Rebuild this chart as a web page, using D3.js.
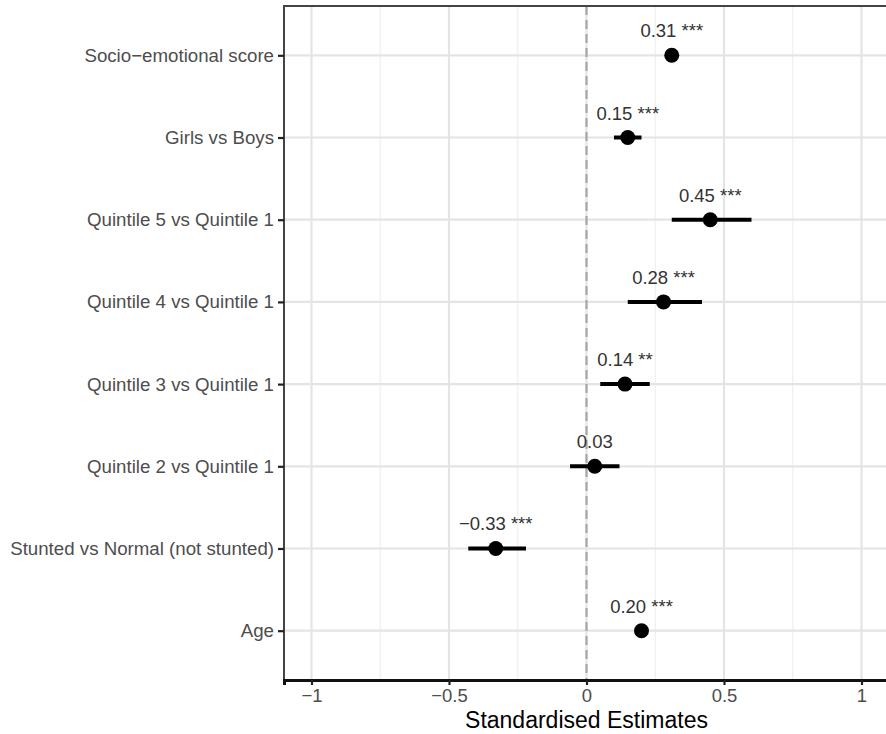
<!DOCTYPE html>
<html>
<head>
<meta charset="utf-8">
<script src="https://cdn.jsdelivr.net/npm/d3@7"></script>
<style>
  body { margin: 0; background: #fff; }
  svg { display: block; font-family: "Liberation Sans", Arial, sans-serif; }
</style>
</head>
<body>
<div id="chart"></div>
<script>
// Forest plot: standardised estimates with confidence intervals
const terms = [
    "Socio\u2212emotional score",
    "Girls vs Boys",
    "Quintile 5 vs Quintile 1",
    "Quintile 4 vs Quintile 1",
    "Quintile 3 vs Quintile 1",
    "Quintile 2 vs Quintile 1",
    "Stunted vs Normal (not stunted)",
    "Age"
];
const estimates = [0.31, 0.15, 0.45, 0.28, 0.14, 0.03, -0.33, 0.20];
const ciLow = [0.29, 0.10, 0.31, 0.15, 0.05, -0.06, -0.43, 0.18];
const ciHigh = [0.33, 0.20, 0.60, 0.42, 0.23, 0.12, -0.22, 0.22];
const stars = ["***", "***", "***", "***", "**", "", "***", "***"];
const xTicks = [-1, -0.5, 0, 0.5, 1];
const xMinorTicks = [-0.75, -0.25, 0.25, 0.75];

function createForestPlot() {
    const container = d3.select("#chart");
    container.selectAll("*").remove();

    const W = 886, H = 734;
    const panel = { left: 284, top: 6, right: 889, bottom: 680 };

    const svg = container.append("svg")
        .attr("width", W)
        .attr("height", H);

    const x = d3.scaleLinear()
        .domain([-1.1, 1.1])
        .range([panel.left, panel.right]);

    const y = d3.scalePoint()
        .domain(terms)
        .range([panel.top, panel.bottom])
        .padding(0.6);

    const rows = terms.map((t, i) => ({
        term: t,
        est: estimates[i],
        lo: ciLow[i],
        hi: ciHigh[i],
        label: (estimates[i] < 0 ? "\u2212" : "") + Math.abs(estimates[i]).toFixed(2) + (stars[i] ? " " + stars[i] : "")
    }));

    // Minor grid
    svg.append("g").selectAll("line")
        .data(xMinorTicks)
        .enter().append("line")
        .attr("x1", d => x(d)).attr("x2", d => x(d))
        .attr("y1", panel.top).attr("y2", panel.bottom)
        .style("stroke", "#f0f0f0")
        .style("stroke-width", 1.3);

    // Major grid
    svg.append("g").selectAll("line")
        .data(xTicks)
        .enter().append("line")
        .attr("x1", d => x(d)).attr("x2", d => x(d))
        .attr("y1", panel.top).attr("y2", panel.bottom)
        .style("stroke", "#e4e4e4")
        .style("stroke-width", 2.2);

    svg.append("g").selectAll("line")
        .data(terms)
        .enter().append("line")
        .attr("x1", panel.left).attr("x2", panel.right)
        .attr("y1", d => y(d)).attr("y2", d => y(d))
        .style("stroke", "#e4e4e4")
        .style("stroke-width", 2.2);

    // Zero reference line
    svg.append("line")
        .attr("x1", x(0)).attr("x2", x(0))
        .attr("y1", panel.top).attr("y2", panel.bottom)
        .style("stroke", "#a6a6a6")
        .style("stroke-width", 2.2)
        .style("stroke-dasharray", "9,5");

    // Panel border (top / left)
    svg.append("rect")
        .attr("x", panel.left).attr("y", panel.top)
        .attr("width", panel.right - panel.left)
        .attr("height", panel.bottom - panel.top)
        .style("fill", "none")
        .style("stroke", "#444")
        .style("stroke-width", 2);

    // Axes
    const xAxis = svg.append("g")
        .attr("transform", `translate(0,${panel.bottom})`)
        .call(d3.axisBottom(x).tickValues(xTicks).tickSize(5).tickPadding(4)
            .tickFormat(d => d === 0 ? "0" : d3.format("")(d).replace("-", "\u2212")));
    xAxis.select(".domain").style("stroke", "#111").style("stroke-width", 3);
    xAxis.selectAll(".tick line").style("stroke", "#222").style("stroke-width", 2.2);
    xAxis.selectAll(".tick text")
        .style("font-size", "18.5px")
        .style("fill", "#4d4d4d");

    const yAxis = svg.append("g")
        .attr("transform", `translate(${panel.left},0)`)
        .call(d3.axisLeft(y).tickSize(6).tickPadding(4));
    yAxis.select(".domain").remove();
    yAxis.selectAll(".tick line").style("stroke", "#222").style("stroke-width", 2.2);
    yAxis.selectAll(".tick text")
        .style("font-size", "18.7px")
        .style("fill", "#4d4d4d");

    // Confidence intervals
    svg.append("g").selectAll("line")
        .data(rows)
        .enter().append("line")
        .attr("x1", d => x(d.lo)).attr("x2", d => x(d.hi))
        .attr("y1", d => y(d.term)).attr("y2", d => y(d.term))
        .style("stroke", "#000")
        .style("stroke-width", 4);

    // Point estimates
    svg.append("g").selectAll("circle")
        .data(rows)
        .enter().append("circle")
        .attr("cx", d => x(d.est))
        .attr("cy", d => y(d.term))
        .attr("r", 7.5)
        .style("fill", "#000");

    // Value labels
    svg.append("g").selectAll("text")
        .data(rows)
        .enter().append("text")
        .attr("x", d => x(d.est))
        .attr("y", d => y(d.term) - 18)
        .attr("text-anchor", "middle")
        .style("font-size", "18.5px")
        .style("fill", "#333")
        .text(d => d.label);

    // Axis title
    svg.append("text")
        .attr("x", x(0))
        .attr("y", 728)
        .attr("text-anchor", "middle")
        .style("font-size", "23px")
        .style("fill", "#000")
        .text("Standardised Estimates");
}

createForestPlot();
</script>
</body>
</html>
